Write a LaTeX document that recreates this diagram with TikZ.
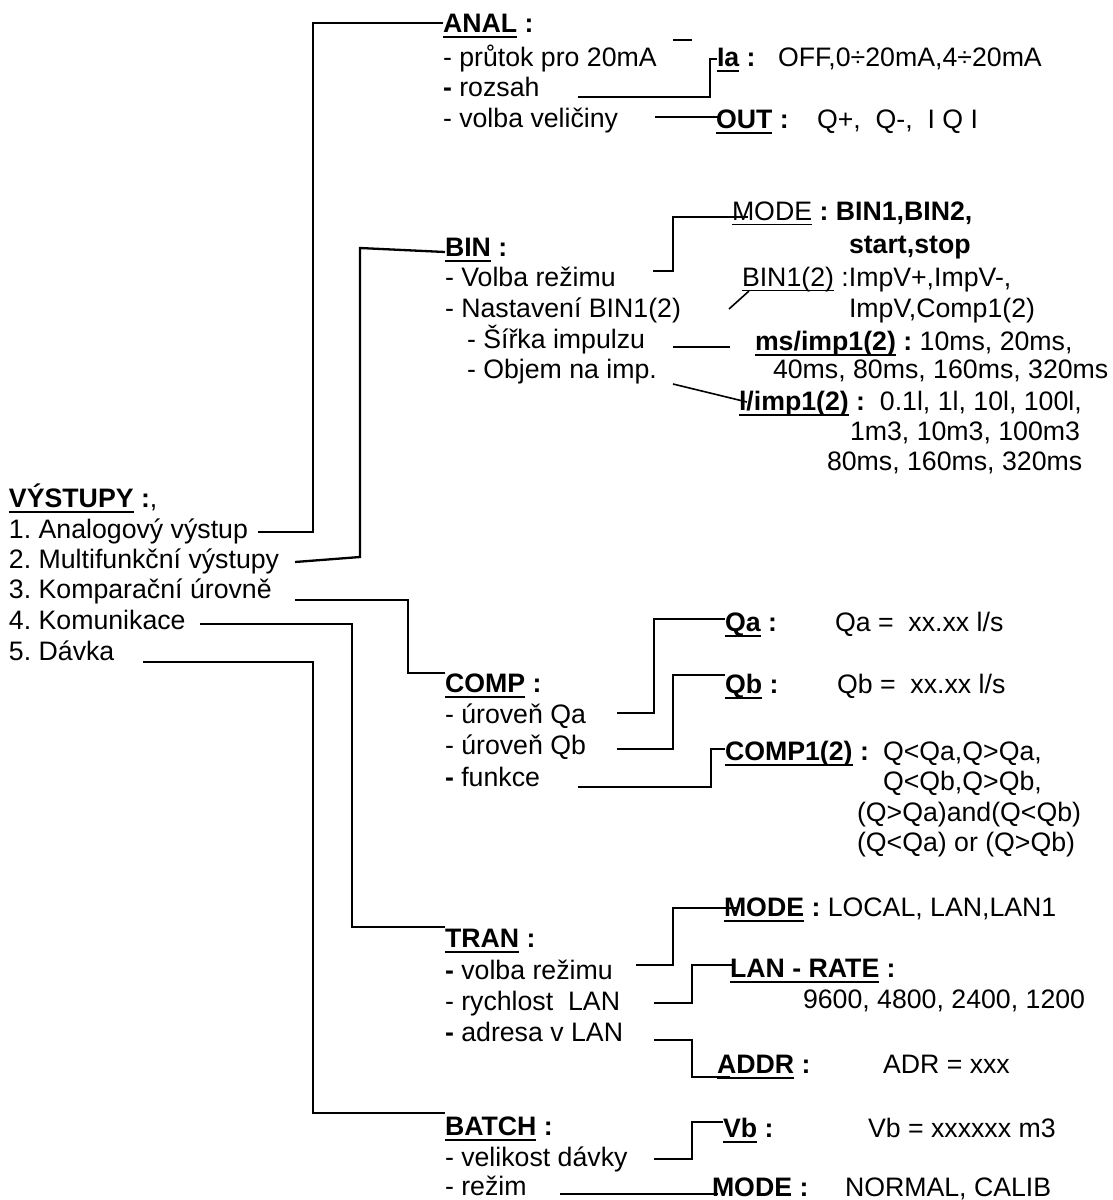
\documentclass[tikz,border=0pt]{standalone}
\usepackage{fontspec}
\setmainfont{Liberation Sans}
\usetikzlibrary{calc}
\newcommand\fs{\fontsize{26.7}{30.5}\selectfont\frenchspacing}
\newcommand\ulB[1]{\vtop{\hbox{\raisebox{0pt}[\height][0pt]{#1}}\kern3.5pt\hrule height2.8pt}}
\newcommand\ulN[1]{\vtop{\hbox{\raisebox{0pt}[\height][0pt]{#1}}\kern3.5pt\hrule height1.8pt}}
\begin{document}
\begin{tikzpicture}[x=1pt,y=-1pt,
  every node/.style={inner sep=0pt,outer sep=0pt,anchor=base west,font=\fs},
  wire/.style={line width=2.3pt},
  fine/.style={line width=1.6pt}]
\useasboundingbox (0,0) rectangle (1112,1200);

% ---------- main list ----------
\node (V0) at (9,507) {\textbf{\ulB{VÝSTUPY} :},};
\node (V1) at (9,538) {1. Analogový výstup};
\node (V2) at (9,568) {2. Multifunkční výstupy};
\node (V3) at (9,598) {3. Komparační úrovně};
\node (V4) at (9,629) {4. Komunikace};
\node (V5) at (9,660) {5. Dávka};

% ---------- ANAL ----------
\node (ANAL) at (443,32) {\textbf{\ulB{ANAL} :}};
\node (A1) at (443,66) {- průtok pro 20mA};
\node (A2) at (443,96) {\textbf{-} rozsah};
\node (A3) at (443,127) {- volba veličiny};
\node (Ia) at (717,66) {\textbf{\ulB{Ia} :}};
\node (IaV) at (778,66) {OFF,0÷20mA,4÷20mA};
\node (OUT) at (716,128) {\textbf{\ulB{OUT} :}};
\node (OUTV) at (817,128) {Q+,\ \ Q-,\ \ I Q I};

% ---------- BIN ----------
\node (BIN) at (445,256) {\textbf{\ulB{BIN} :}};
\node (B1) at (445,286) {- Volba režimu};
\node (B2) at (445,317) {- Nastavení BIN1(2)};
\node (B3) at (467,348) {- Šířka impulzu};
\node (B4) at (467,378) {- Objem na imp.};
\node (MODE1) at (732,220) {\ulN{MODE}\textbf{ : BIN1,BIN2,}};
\node (MODE1b) at (849,253) {\textbf{start,stop}};
\node (BINx) at (742,286) {\ulN{BIN1(2)} :ImpV+,ImpV-,};
\node (BINxb) at (849,317) {ImpV,Comp1(2)};
\node (MS) at (755,350) {\textbf{\ulB{ms/imp1(2)} :} 10ms, 20ms,};
\node (MSb) at (773,378) {40ms, 80ms, 160ms, 320ms};
\node (L) at (739,410) {\textbf{\ulB{l/imp1(2)} :}\ \ 0.1l, 1l, 10l, 100l,};
\node (Lb) at (850,440) {1m3, 10m3, 100m3};
\node (Lc) at (827,470) {80ms, 160ms, 320ms};

% ---------- COMP ----------
\node (COMP) at (445,692) {\textbf{\ulB{COMP} :}};
\node (C1) at (445,723) {- úroveň Qa};
\node (C2) at (445,754) {- úroveň Qb};
\node (C3) at (445,786) {\textbf{-} funkce};
\node (Qa) at (725,631) {\textbf{\ulB{Qa} :}};
\node (QaV) at (835,631) {Qa =\ \ xx.xx l/s};
\node (Qb) at (725,693) {\textbf{\ulB{Qb} :}};
\node (QbV) at (837,693) {Qb =\ \ xx.xx l/s};
\node (CP) at (725,760) {\textbf{\ulB{COMP1(2)} :}};
\node (CPa) at (883,760) {Q<Qa,Q>Qa,};
\node (CPb) at (883,790) {Q<Qb,Q>Qb,};
\node (CPc) at (857,821) {(Q>Qa)and(Q<Qb)};
\node (CPd) at (857,851) {(Q<Qa) or (Q>Qb)};

% ---------- TRAN ----------
\node (TRAN) at (445,947) {\textbf{\ulB{TRAN} :}};
\node (T1) at (445,979) {\textbf{-} volba režimu};
\node (T2) at (445,1010) {- rychlost\ \ LAN};
\node (T3) at (445,1041) {\textbf{-} adresa v LAN};
\node (TM) at (724,916) {\textbf{\ulB{MODE} :} LOCAL, LAN,LAN1};
\node (TL) at (730,977) {\textbf{\ulB{LAN - RATE} :}};
\node (TLV) at (803,1008) {9600, 4800, 2400, 1200};
\node (TA) at (717,1073) {\textbf{\ulB{ADDR} :}};
\node (TAV) at (883,1073) {ADR = xxx};

% ---------- BATCH ----------
\node (BATCH) at (445,1135) {\textbf{\ulB{BATCH} :}};
\node (BA1) at (445,1166) {- velikost dávky};
\node (BA2) at (445,1195) {- režim};
\node (Vb) at (723,1137) {\textbf{\ulB{Vb} :}};
\node (VbV) at (868,1137) {Vb = xxxxxx m3};
\node (BM) at (712,1196) {\textbf{MODE :}};
\node (BMV) at (845,1196) {NORMAL, CALIB};

% ---------- connector start points ----------
\coordinate (sA) at (258,532);
\coordinate (sB) at (295,562);
\coordinate (sC) at (295,600);
\coordinate (sT) at (200,624);
\coordinate (sD) at (143,662);
\coordinate (sA2) at (578,97);
\coordinate (sA3) at (655,117);
\coordinate (sB1) at (653,271);
\coordinate (sB2) at (729,309);
\coordinate (sB3) at (673,347);
\coordinate (eB3) at (730,347);
\coordinate (sB4) at (673,384);
\coordinate (sC1) at (617,713);
\coordinate (sC2) at (617,749);
\coordinate (sC3) at (578,787);
\coordinate (sT1) at (636,965);
\coordinate (sT2) at (654,1003);
\coordinate (sT3) at (654,1040);
\coordinate (sD1) at (654,1159);
\coordinate (sD2) at (560,1194);

% ---------- main connectors ----------
\draw[wire] (sA) -| (313,23) -- (ANAL.west |- 0,23);
\draw[wire] (sB) -- (360,557) -- (360,248) -- (BIN.west |- 0,252);
\draw[wire] (sC) -| (408,673) -- (COMP.west |- 0,673);
\draw[wire] (sT) -| (352,927) -- (TRAN.west |- 0,927);
\draw[wire] (sD) -| (313,1113) -- (BATCH.west |- 0,1113);

% ---------- ANAL connectors ----------
\draw[wire] (sA2) -| (710,59) -- (Ia.west |- 0,59);
\draw[wire] (sA3) -- (OUT.west |- 0,117) -- ++(2,0);
\draw[wire] (673,40) -- (692,40);

% ---------- BIN connectors ----------
\draw[wire] (sB1) -| (673,217) -- (MODE1.west |- 0,217) -- ++(16,0);
\draw[fine] (sB2) -- ($(BINx.base west)+(7,5)$);
\draw[wire] (sB3) -- (eB3);
\draw[fine] (sB4) -- ($(L.base west)+(8,-8)$);

% ---------- COMP connectors ----------
\draw[wire] (sC1) -| (654,619) -- (Qa.west |- 0,619);
\draw[wire] (sC2) -| (673,675) -- (Qb.west |- 0,675);
\draw[wire] (sC3) -| (711,749) -- (CP.west |- 0,749);

% ---------- TRAN connectors ----------
\draw[wire] (sT1) -| (673,908) -- (TM.west |- 0,908) -- ++(14,0);
\draw[wire] (sT2) -| (692,965) -- (TL.west |- 0,965) -- ++(3,0);
\draw[wire] (sT3) -| (692,1077) -- (TA.west |- 0,1077) -- ++(13,0);

% ---------- BATCH connectors ----------
\draw[wire] (sD1) -| (692,1122) -- (Vb.west |- 0,1122);
\draw[wire] (sD2) -- (BM.west |- 0,1194) -- ++(6,0);
\end{tikzpicture}
\end{document}
